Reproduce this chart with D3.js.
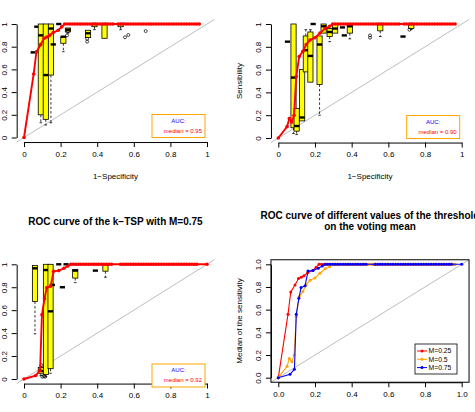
<!DOCTYPE html>
<html lang="en">
<head>
<meta charset="UTF-8" />
<title>ROC curves of the k-TSP</title>
<script src="https://cdn.jsdelivr.net/npm/d3@7.6.1/dist/d3.min.js"></script>
<style>
  body { margin: 0; background: #fff; }
  svg { display: block; font-family: 'Liberation Sans', Arial, Helvetica, sans-serif; }
</style>
</head>
<body>
<div id="box"></div>
<script>
// canvas size
const width = 475;
const height = 412;

// ---- data ----
const ticks = [0, 0.2, 0.4, 0.6, 0.8, 1];
const tickLabels = ['0', '0.2', '0.4', '0.6', '0.8', '1'];
const tickLabels4 = ['0.0', '0.2', '0.4', '0.6', '0.8', '1.0'];

// median ROC curves (1-specificity, sensitivity) for M = 0.25 / 0.5 / 0.75
const fpr25 = [0, 0.053, 0.068, 0.091, 0.11, 0.125, 0.14, 0.16, 0.187, 0.206, 0.222];
const tpr25 = [0, 0.56, 0.756, 0.818, 0.874, 0.885, 0.9, 0.925, 0.945, 0.975, 1];
// points where the curve already sits at sensitivity 1
const flat25 = [0.236, 0.250, 0.264, 0.278, 0.292, 0.306, 0.319, 0.333, 0.347, 0.361, 0.375, 0.389,
  0.403, 0.417, 0.431, 0.444, 0.458, 0.472, 0.486, 0.514, 0.528, 0.542, 0.556, 0.569, 0.583, 0.597,
  0.611, 0.625, 0.639, 0.653, 0.667, 0.681, 0.694, 0.708, 0.722, 0.736, 0.750, 0.764, 0.778, 0.792,
  0.806, 0.819, 0.833, 0.847, 0.861, 0.875, 0.889, 0.903, 0.917, 0.931, 0.944, 0.958];

const fpr50 = [0, 0.048, 0.06, 0.074, 0.086, 0.098, 0.114, 0.134, 0.152, 0.173, 0.2, 0.227, 0.255, 0.28];
const tpr50 = [0, 0.1, 0.17, 0.14, 0.2, 0.54, 0.714, 0.76, 0.82, 0.86, 0.88, 0.92, 0.96, 0.98];
const flat50 = [0.297, 0.311, 0.325, 0.339, 0.353, 0.367, 0.381, 0.394, 0.408, 0.422, 0.436, 0.450,
  0.464, 0.478, 0.492, 0.506, 0.519, 0.533, 0.547, 0.561, 0.575, 0.589, 0.603, 0.617, 0.631, 0.644,
  0.658, 0.686, 0.700, 0.714, 0.728, 0.742, 0.756, 0.769, 0.783, 0.797, 0.811, 0.825, 0.839, 0.853,
  0.867, 0.881, 0.894, 0.908, 0.922, 0.936, 0.950, 0.964];

const fpr75 = [0, 0.064, 0.088, 0.098, 0.112, 0.124, 0.146, 0.162, 0.19, 0.218, 0.24];
const tpr75 = [0, 0.03, 0.075, 0.56, 0.7, 0.795, 0.81, 0.94, 0.945, 0.965, 0.985];
const flat75 = [0.256, 0.269, 0.283, 0.297, 0.311, 0.325, 0.339, 0.353, 0.367, 0.381, 0.394, 0.408,
  0.422, 0.436, 0.450, 0.464, 0.478, 0.528, 0.542, 0.556, 0.569, 0.583, 0.597, 0.611, 0.625, 0.639,
  0.653, 0.667, 0.681, 0.694, 0.708, 0.722, 0.736, 0.750, 0.764, 0.778, 0.792, 0.806, 0.819, 0.833,
  0.847, 0.861, 0.875, 0.889, 0.903, 0.917, 0.931, 0.944, 1.0];

// boxplots of the sensitivity: [1-specificity, lower whisker, q1, median, q3, upper whisker]
const boxes25 = [
  [0.05, 0.75, 0.75, 0.75, 0.75, 0.75],
  [0.07, 0.976, 0.976, 0.976, 0.976, 0.976],
  [0.092, 0.13, 0.2, 0.9, 1, 1],
  [0.119, 0.11, 0.16, 0.55, 1, 1],
  [0.147, 0.13, 0.55, 0.96, 1, 1],
  [0.16, 0.82, 0.82, 0.82, 0.82, 0.82],
  [0.19, 1, 1, 1, 1, 1],
  [0.215, 0.756, 0.83, 0.888, 0.888, 0.888],
  [0.24, 0.92, 0.93, 0.95, 0.965, 0.965],
  [0.35, 0.88, 0.88, 0.918, 0.945, 0.945],
  [0.385, 0.95, 0.976, 1, 1, 1],
  [0.44, 0.874, 0.874, 1, 1, 1],
  [0.528, 0.95, 0.976, 1, 1, 1]
];
const outliers25 = [[0.24, 0.935], [0.235, 0.9], [0.345, 0.87], [0.345, 0.845],
  [0.552, 0.883], [0.57, 0.903], [0.665, 0.938]];

const boxes50 = [
  [0.05, 0.845, 0.845, 0.845, 0.845, 0.845],
  [0.083, 0.04, 0.09, 0.53, 1, 1],
  [0.1, 0.03, 0.06, 0.105, 0.26, 0.26],
  [0.13, 0.15, 0.15, 0.18, 0.6, 0.6],
  [0.15, 0.58, 0.58, 0.77, 0.895, 0.95],
  [0.175, 0.49, 0.49, 0.72, 0.93, 0.95],
  [0.19, 1, 1, 1, 1, 1],
  [0.225, 0.2, 0.47, 0.82, 0.895, 0.895],
  [0.247, 0.92, 0.92, 0.98, 1, 1],
  [0.28, 0.845, 0.89, 0.93, 0.96, 0.96],
  [0.31, 0.92, 0.92, 0.96, 1, 1],
  [0.35, 0.97, 0.97, 0.97, 0.97, 0.97],
  [0.36, 0.9, 0.9, 0.9, 0.9, 0.9],
  [0.39, 0.87, 0.92, 0.98, 0.99, 0.99],
  [0.556, 0.89, 0.94, 1, 1, 1],
  [0.68, 0.89, 0.89, 0.89, 0.89, 0.89],
  [0.725, 0.95, 0.96, 1, 1, 1]
];
const outliers50 = [[0.5, 0.9], [0.5, 0.88], [0.715, 0.95]];

const boxes75 = [
  [0.06, 0.394, 0.675, 0.965, 0.99, 0.99],
  [0.092, 0.03, 0.05, 0.07, 0.1, 0.11],
  [0.12, 0.02, 0.04, 0.95, 1, 1],
  [0.145, 0.05, 0.09, 0.59, 1, 1],
  [0.155, 0.82, 0.82, 0.82, 0.82, 0.82],
  [0.19, 1, 1, 1, 1, 1],
  [0.21, 0.8, 0.8, 0.8, 0.8, 0.8],
  [0.23, 1, 1, 1, 1, 1],
  [0.28, 0.84, 0.88, 0.945, 0.955, 0.955],
  [0.39, 0.945, 0.945, 0.945, 0.945, 0.945],
  [0.445, 0.887, 0.94, 1, 1, 1]
];
const outliers75 = [[0.095, 0.12], [0.1, 0.02], [0.108, 0.025], [0.115, 0.02]];

const aucMedians = ['0.95', '0.90', '0.92'];
const legendLabels = ['M=0.25', 'M=0.5', 'M=0.75'];
const seriesColors = ['#FF0000', '#FFA500', '#0000FF'];

// ---- helpers ----
const toPts = (fpr, tpr, flat) => fpr.map((f, i) => [f, tpr[i]]).concat(flat.map(f => [f, 1]));
const roc25 = toPts(fpr25, tpr25, flat25);
const roc50 = toPts(fpr50, tpr50, flat50);
const roc75 = toPts(fpr75, tpr75, flat75);

const svg = d3.select('#box').append('svg').attr('width', width).attr('height', height);

// pixel frame of each panel: where 0 and 1 land on each axis
const frames = [
  {x: [24, 207], y: [137.5, 24]},
  {x: [278.3, 461.7], y: [138, 24]},
  {x: [24, 207], y: [379, 264.3]},
  {x: [278.3, 461.7], y: [377.7, 264.3]}
];

function scales(f) {
  const x = d3.scaleLinear().domain([0, 1]).range(f.x);
  const y = d3.scaleLinear().domain([0, 1]).range(f.y);
  return {x, y};
}

function drawAxes(g, x, y, labels) {
  g.append('g')
    .attr('transform', `translate(0,${y(-0.04)})`)
    .call(d3.axisBottom(x).tickValues(ticks).tickFormat((d, i) => labels[i]).tickSize(5).tickSizeOuter(0).tickPadding(4))
    .attr('font-size', 8)
    .attr('font-family', null);
  g.append('g')
    .attr('transform', `translate(${x(-0.04)},0)`)
    .call(d3.axisLeft(y).tickValues(ticks).tickFormat((d, i) => labels[i]).tickSize(5).tickSizeOuter(0))
    .attr('font-size', 8)
    .attr('font-family', null)
    .call(a => a.selectAll('.tick text')
      .attr('x', 0).attr('y', -9.5).attr('dy', 0)
      .attr('text-anchor', 'middle')
      .attr('transform', 'rotate(-90)'));
  g.selectAll('.tick text').attr('fill', '#000');
}

function drawDiagonal(g, x, y) {
  g.append('line')
    .attr('x1', x(-0.04)).attr('y1', y(-0.04))
    .attr('x2', x(1.04)).attr('y2', y(1.04))
    .attr('stroke', '#BEBEBE').attr('stroke-width', 1);
}

function drawBoxes(g, x, y, boxes, outliers) {
  const hw = 2.6;
  const b = g.append('g').selectAll('g').data(boxes).join('g');
  // whiskers (dashed)
  b.filter(d => d[1] < d[2]).append('line')
    .attr('x1', d => x(d[0])).attr('x2', d => x(d[0]))
    .attr('y1', d => y(d[2])).attr('y2', d => y(d[1]))
    .attr('stroke', '#000').attr('stroke-width', 0.8).attr('stroke-dasharray', '2.5,2');
  b.filter(d => d[5] > d[4]).append('line')
    .attr('x1', d => x(d[0])).attr('x2', d => x(d[0]))
    .attr('y1', d => y(d[4])).attr('y2', d => y(d[5]))
    .attr('stroke', '#000').attr('stroke-width', 0.8).attr('stroke-dasharray', '2.5,2');
  // staples
  b.filter(d => d[1] < d[2]).append('line')
    .attr('x1', d => x(d[0]) - hw / 2).attr('x2', d => x(d[0]) + hw / 2)
    .attr('y1', d => y(d[1])).attr('y2', d => y(d[1]))
    .attr('stroke', '#000').attr('stroke-width', 0.8);
  b.filter(d => d[5] > d[4]).append('line')
    .attr('x1', d => x(d[0]) - hw / 2).attr('x2', d => x(d[0]) + hw / 2)
    .attr('y1', d => y(d[5])).attr('y2', d => y(d[5]))
    .attr('stroke', '#000').attr('stroke-width', 0.8);
  // box
  b.append('rect')
    .attr('x', d => x(d[0]) - hw).attr('width', hw * 2)
    .attr('y', d => y(d[4])).attr('height', d => y(d[2]) - y(d[4]))
    .attr('fill', '#FFFF00').attr('stroke', '#000').attr('stroke-width', 0.8);
  // median
  b.append('line')
    .attr('x1', d => x(d[0]) - hw).attr('x2', d => x(d[0]) + hw)
    .attr('y1', d => y(d[3])).attr('y2', d => y(d[3]))
    .attr('stroke', '#000').attr('stroke-width', 2.4);
  g.append('g').selectAll('circle').data(outliers).join('circle')
    .attr('cx', d => x(d[0])).attr('cy', d => y(d[1])).attr('r', 1.5)
    .attr('fill', 'none').attr('stroke', '#000').attr('stroke-width', 0.7);
}

function drawRoc(g, x, y, pts, color, lw, r) {
  g.append('path').datum(pts)
    .attr('fill', 'none').attr('stroke', color).attr('stroke-width', lw)
    .attr('d', d3.line().x(d => x(d[0])).y(d => y(d[1])));
  g.append('g').selectAll('circle').data(pts).join('circle')
    .attr('cx', d => x(d[0])).attr('cy', d => y(d[1])).attr('r', r)
    .attr('fill', color);
}

function drawAucLegend(g, x, y, median, dy) {
  const right = x(1) - 2;
  const bottom = y(0) + dy;
  g.append('rect')
    .attr('x', right - 53).attr('y', bottom - 23).attr('width', 53).attr('height', 23)
    .attr('fill', '#fff').attr('stroke', '#FFA500').attr('stroke-width', 1);
  g.append('text').attr('x', right - 26.5).attr('y', bottom - 15)
    .attr('text-anchor', 'middle').attr('font-size', 6).attr('fill', '#0000FF').text('AUC:');
  g.append('text').attr('x', right - 3).attr('y', bottom - 5)
    .attr('text-anchor', 'end').attr('font-size', 6).attr('fill', '#FF0000').text(`median = ${median}`);
}

// ---- panels 1-3: boxplots + median ROC curve ----
const rocPanels = [
  {roc: roc25, boxes: boxes25, outliers: outliers25, auc: aucMedians[0], legDy: 0},
  {roc: roc50, boxes: boxes50, outliers: outliers50, auc: aucMedians[1], legDy: 0.5},
  {roc: roc75, boxes: boxes75, outliers: outliers75, auc: aucMedians[2], legDy: 8}
];

rocPanels.forEach((p, i) => {
  const {x, y} = scales(frames[i]);
  const g = svg.append('g');
  drawDiagonal(g, x, y);
  drawBoxes(g, x, y, p.boxes, p.outliers);
  drawRoc(g, x, y, p.roc, '#FF0000', 1.9, 1.8);
  drawAxes(g, x, y, tickLabels);
  drawAucLegend(g, x, y, p.auc, p.legDy);
});

// axis titles of the top row
[0, 1].forEach(i => {
  const {x} = scales(frames[i]);
  svg.append('text').attr('x', (x(0) + x(1)) / 2).attr('y', 179)
    .attr('text-anchor', 'middle').attr('font-size', 8).text('1\u2212Specificity');
});
svg.append('text')
  .attr('transform', `translate(242,${(frames[1].y[0] + frames[1].y[1]) / 2}) rotate(-90)`)
  .attr('text-anchor', 'middle').attr('font-size', 8).text('Sensibility');

// title of panel 3
svg.append('text').attr('x', (frames[2].x[0] + frames[2].x[1]) / 2).attr('y', 224.5)
  .attr('text-anchor', 'middle').attr('font-size', 10).attr('font-weight', 'bold')
  .text('ROC curve of the k\u2212TSP with M=0.75');

// ---- panel 4: the three median curves ----
{
  const {x, y} = scales(frames[3]);
  const g = svg.append('g');
  drawDiagonal(g, x, y);
  // red first, then orange, blue on top
  [roc25, roc50, roc75].forEach((pts, k) => {
    drawRoc(g, x, y, pts, seriesColors[k], 1.1, 1.5);
  });
  g.append('rect')
    .attr('x', x(-0.04)).attr('y', y(1.04))
    .attr('width', x(1.04) - x(-0.04)).attr('height', y(-0.04) - y(1.04))
    .attr('fill', 'none').attr('stroke', '#000').attr('stroke-width', 1);
  drawAxes(g, x, y, tickLabels4);

  // legend
  const lg = g.append('g').attr('transform', 'translate(415,344)');
  lg.append('rect').attr('width', 42).attr('height', 30)
    .attr('fill', '#fff').attr('stroke', '#000').attr('stroke-width', 0.8);
  const item = lg.selectAll('g').data(legendLabels).join('g')
    .attr('transform', (d, i) => `translate(0,${7 + i * 8.3})`);
  item.append('line').attr('x1', 2).attr('x2', 12)
    .attr('stroke', (d, i) => seriesColors[i]).attr('stroke-width', 1);
  item.append('circle').attr('cx', 7).attr('r', 1.5).attr('fill', (d, i) => seriesColors[i]);
  item.append('text').attr('x', 13.5).attr('y', 2.4).attr('font-size', 6.8).text(d => d);

  svg.append('text').attr('x', 370).attr('y', 218.5)
    .attr('text-anchor', 'middle').attr('font-size', 10).attr('font-weight', 'bold')
    .text('ROC curve of different values of the threshold');
  svg.append('text').attr('x', 370).attr('y', 229.5)
    .attr('text-anchor', 'middle').attr('font-size', 10).attr('font-weight', 'bold')
    .text('on the voting mean');
  svg.append('text')
    .attr('transform', `translate(242,${(frames[3].y[0] + frames[3].y[1]) / 2}) rotate(-90)`)
    .attr('text-anchor', 'middle').attr('font-size', 8).text('Median of the sensitivity');
}
</script>
</body>
</html>
